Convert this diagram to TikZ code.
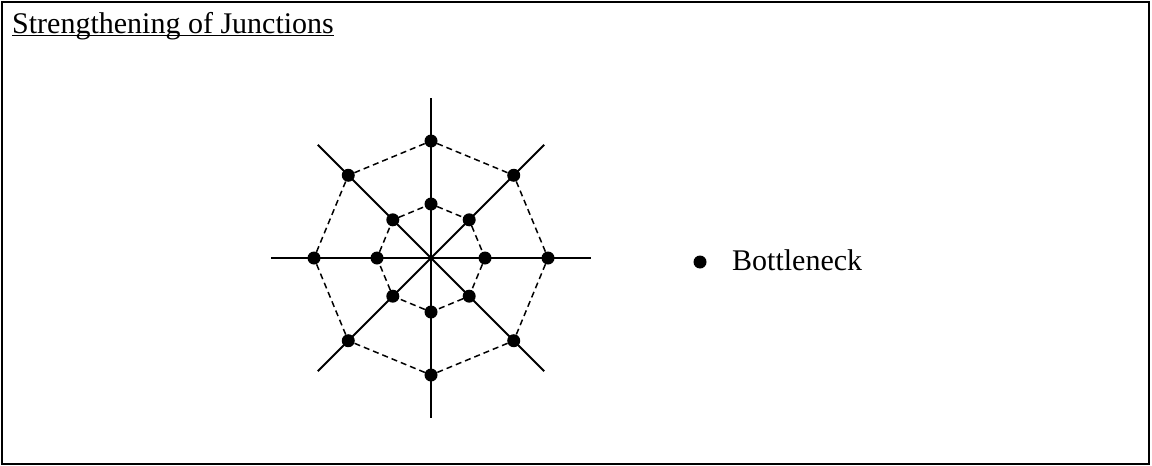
\documentclass[tikz,border=0pt]{standalone}
\usepackage{fontspec}
\setmainfont{Liberation Serif}
\usetikzlibrary{positioning,calc}

\begin{document}
\begin{tikzpicture}[
    x=1pt, y=-1pt,
    dot/.style={circle, fill=black, inner sep=0pt, minimum size=13pt},
    ray/.style={line width=2pt},
    ring/.style={dash pattern=on 6pt off 4pt, line width=1.5pt},
    lbl/.style={inner sep=0pt, font=\fontsize{30}{36}\selectfont}
]
    \useasboundingbox (0,0) rectangle (1152,466);
    \draw [line width=2pt] (2,2) rectangle (1149,464);

    % title
    \node [lbl, anchor=base west] (title) at (12,33) {Strengthening of Junctions};
    \draw [line width=1.5pt] ([yshift=-2.5pt]title.base west) -- ([yshift=-2.5pt]title.base east);

    % junction web
    \coordinate (c) at (431,258);
    \foreach \k in {1,...,8} {
        \path (c) ++({45*(\k-1)}:160) coordinate (e\k);
        \draw [ray] (c) -- (e\k);
    }
    \foreach \k in {1,...,8} {
        \node [dot] (o\k) at ($(c)+({45*(\k-1)}:117)$) {};
        \node [dot] (i\k) at ($(c)+({45*(\k-1)}:54)$) {};
    }
    \foreach \k [evaluate=\k as \n using {int(mod(\k,8)+1)}] in {1,...,8} {
        \draw [ring] (o\k) -- (o\n);
        \draw [ring] (i\k) -- (i\n);
    }

    % legend
    \node [dot] (key) at (700,262) {};
    \node [lbl, anchor=base west] (bneck) at (732,270) {Bottleneck};
\end{tikzpicture}
\end{document}
